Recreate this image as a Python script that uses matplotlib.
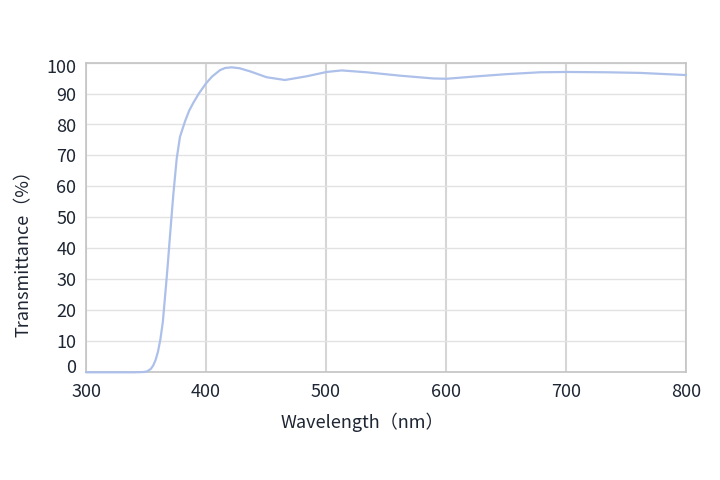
import matplotlib
matplotlib.use("Agg")
import matplotlib.pyplot as plt
import matplotlib.transforms as mtransforms

plt.rcParams["font.family"] = ["Noto Sans CJK SC", "DejaVu Sans"]

# values
wavelength_nm = [300, 320, 340, 348, 351, 354, 356, 358, 360, 362, 364, 366.7, 368, 370,
                 372.8, 375.6, 378.3, 382.5, 386, 389.4, 394, 400, 405, 411.7, 416,
                 421.4, 428, 436.7, 450.5, 465.8, 483.9, 500.5, 513, 533.9, 561.7,
                 589.4, 600.5, 622.8, 650.6, 678.3, 700.6, 733.9, 761.7, 800]
transmittance = [-0.2, -0.2, -0.2, -0.1, 0.1, 0.9, 2.0, 3.8, 6.5, 10.5, 16.0, 28.0, 34.0, 44.0,
                 57.5, 69.0, 76.0, 81.0, 84.5, 87.0, 90.0, 93.3, 95.5, 97.6, 98.3,
                 98.5, 98.2, 97.2, 95.3, 94.4, 95.6, 97.0, 97.5, 96.9, 95.8,
                 94.9, 94.8, 95.5, 96.3, 96.9, 97.0, 96.9, 96.7, 96.0]

x_ticks = [300, 400, 500, 600, 700, 800]
y_ticks = [0, 10, 20, 30, 40, 50, 60, 70, 80, 90, 100]

TEXT_COLOR = "#1e2633"
LINE_COLOR = "#adc0ea"

fig = plt.figure(figsize=(7.2, 4.8), dpi=100)
ax = fig.add_axes([86 / 720, 1 - 371.7 / 480, 600 / 720, 309 / 480])

ax.plot(wavelength_nm, transmittance, color=LINE_COLOR, linewidth=1.6,
        solid_capstyle="round", clip_on=False, zorder=3)

ax.set_xlim(300, 800)
ax.set_ylim(0, 100)
ax.set_xticks(x_ticks)
ax.set_yticks(y_ticks)

ax.grid(axis="x", color="#d6d6d6", linewidth=1.5)
ax.grid(axis="y", color="#e2e2e2", linewidth=1.0)
ax.set_axisbelow(True)
for spine in ax.spines.values():
    spine.set_color("#c4c4c4")
    spine.set_linewidth(1.2)

ax.tick_params(axis="both", length=0, labelsize=13, labelcolor=TEXT_COLOR)
ax.tick_params(axis="x", pad=8)
ax.tick_params(axis="y", pad=7)

# end labels on the y axis sit a little inside the range
labels = ax.get_yticklabels()
labels[0].set_transform(labels[0].get_transform() + mtransforms.ScaledTranslation(0, 5.5 / 100, fig.dpi_scale_trans))
labels[-1].set_transform(labels[-1].get_transform() + mtransforms.ScaledTranslation(0, -3.5 / 100, fig.dpi_scale_trans))

ax.set_xlabel("Wavelength（nm）", fontsize=13, color=TEXT_COLOR)
ax.set_ylabel("Transmittance（%）", fontsize=13, color=TEXT_COLOR)
ax.xaxis.label.set_va("center")
ax.yaxis.label.set_va("center")
ax.xaxis.set_label_coords(0.461, -0.163)
ax.yaxis.set_label_coords(-0.104, 0.398)

fig.savefig("out.png", dpi=100, facecolor="white")
